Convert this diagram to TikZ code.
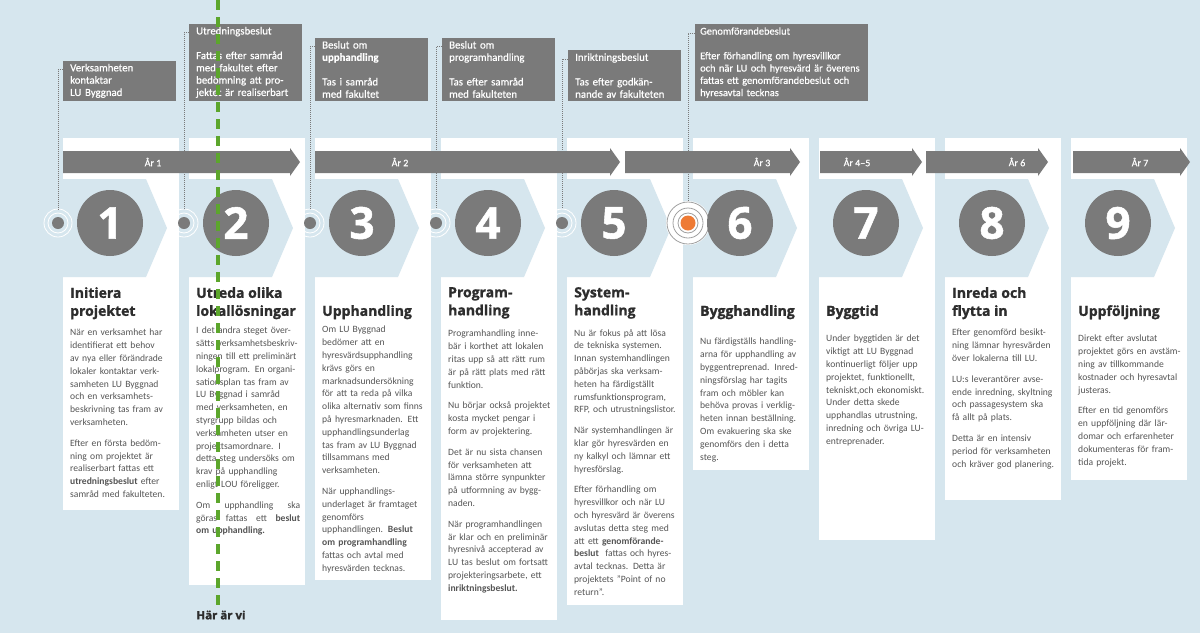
\documentclass[tikz,border=0pt]{standalone}
\usepackage{fontspec}
\setmainfont{Carlito}
\newfontfamily\headfont[FakeBold=1.2]{Open Sans}
\newfontfamily\boxfont[FakeBold=0.6]{Carlito}
\usetikzlibrary{positioning}
\definecolor{bgblue}{RGB}{214,230,238}
\definecolor{darkgrey}{RGB}{122,122,122}
\definecolor{ringgrey}{RGB}{160,160,160}
\definecolor{textgrey}{RGB}{85,85,85}
\definecolor{titlegrey}{RGB}{45,45,45}
\definecolor{heregreen}{RGB}{92,166,44}
\definecolor{noworange}{RGB}{238,122,52}
\tikzset{
    card/.style={fill=white,anchor=north west,minimum width=116pt,inner sep=0pt},
    chevron/.style={fill=bgblue},
    stepnum/.style={circle,fill=darkgrey,minimum size=66pt,inner sep=0pt,text=white,font=\headfont\bfseries\fontsize{44}{44}\selectfont},
    stagedot/.style={circle,fill=darkgrey,minimum size=12pt,inner sep=0pt},
    ring/.style={draw=white,line width=0.8pt},
    nowring/.style={draw=ringgrey,line width=0.8pt},
    decision/.style={fill=darkgrey,anchor=south west,text=white,align=left,inner xsep=7pt,inner ysep=3pt,text width=99pt,font=\boxfont\fontsize{10.8}{12.3}\selectfont},
    link/.style={densely dotted,draw=darkgrey,line width=1pt},
    yeararrow/.style={fill=darkgrey},
    yearlabel/.style={text=white,inner sep=0pt,font=\boxfont\fontsize{10}{11}\selectfont},
    title/.style={anchor=north west,inner sep=0pt,align=left,text=titlegrey,font=\headfont\bfseries\fontsize{14}{18}\selectfont},
    body/.style={anchor=north west,inner sep=0pt,align=left,text width=110pt,text=textgrey,font=\fontsize{9.6}{12.8}\selectfont},
    here/.style={draw=heregreen,line width=3.5pt,dash pattern=on 10pt off 7pt}
}

\begin{document}
\begin{tikzpicture}[x=1pt,y=-1pt]

    \fill[bgblue] (0,0) rectangle (1200,633);
    \useasboundingbox (0,0) rectangle (1200,633);

    \node[card,minimum height=372pt] (card 1) at (63,138)   {};
    \node[card,minimum height=447pt] (card 2) at (189,138)  {};
    \node[card,minimum height=442pt] (card 3) at (315,138)  {};
    \node[card,minimum height=482pt] (card 4) at (441,138)  {};
    \node[card,minimum height=467pt] (card 5) at (567,138)  {};
    \node[card,minimum height=332pt] (card 6) at (693,138)  {};
    \node[card,minimum height=402pt] (card 7) at (819,138)  {};
    \node[card,minimum height=362pt] (card 8) at (945,138)  {};
    \node[card,minimum height=342pt] (card 9) at (1071,138) {};

    \fill[chevron] (63,179)   -- (146,179)  -- (167,228)  -- (146,277)  -- (63,277)   -- cycle;
    \fill[chevron] (189,179)  -- (272,179)  -- (293,228)  -- (272,277)  -- (189,277)  -- cycle;
    \fill[chevron] (315,179)  -- (398,179)  -- (419,228)  -- (398,277)  -- (315,277)  -- cycle;
    \fill[chevron] (441,179)  -- (524,179)  -- (545,228)  -- (524,277)  -- (441,277)  -- cycle;
    \fill[chevron] (567,179)  -- (650,179)  -- (671,228)  -- (650,277)  -- (567,277)  -- cycle;
    \fill[chevron] (693,179)  -- (776,179)  -- (797,228)  -- (776,277)  -- (693,277)  -- cycle;
    \fill[chevron] (819,179)  -- (902,179)  -- (923,228)  -- (902,277)  -- (819,277)  -- cycle;
    \fill[chevron] (945,179)  -- (1028,179) -- (1049,228) -- (1028,277) -- (945,277)  -- cycle;
    \fill[chevron] (1071,179) -- (1154,179) -- (1175,228) -- (1154,277) -- (1071,277) -- cycle;

    \fill[yeararrow] (63,151)   -- (290,151)  -- (290,148)  -- (300,162)  -- (290,176)  -- (290,173)  -- (63,173)   -- cycle;
    \fill[yeararrow] (315,151)  -- (610,151)  -- (610,148)  -- (620,162)  -- (610,176)  -- (610,173)  -- (315,173)  -- cycle;
    \fill[yeararrow] (625,151)  -- (790,151)  -- (790,148)  -- (800,162)  -- (790,176)  -- (790,173)  -- (625,173)  -- cycle;
    \fill[yeararrow] (820,151)  -- (912,151)  -- (912,148)  -- (922,162)  -- (912,176)  -- (912,173)  -- (820,173)  -- cycle;
    \fill[yeararrow] (926,151)  -- (1038,151) -- (1038,148) -- (1048,162) -- (1038,176) -- (1038,173) -- (926,173)  -- cycle;
    \fill[yeararrow] (1073,151) -- (1180,151) -- (1180,148) -- (1190,162) -- (1180,176) -- (1180,173) -- (1073,173) -- cycle;

    \node[yearlabel] (year 1) at (153,162)  {År 1};
    \node[yearlabel] (year 2) at (400,162)  {År 2};
    \node[yearlabel] (year 3) at (762,162)  {År 3};
    \node[yearlabel] (year 4) at (857,162)  {År 4–5};
    \node[yearlabel] (year 6) at (1017,162) {År 6};
    \node[yearlabel] (year 7) at (1140,162) {År 7};

    \node[stagedot] (dot 1) at (58,223)  {};
    \node[stagedot] (dot 2) at (184,223) {};
    \node[stagedot] (dot 3) at (310,223) {};
    \node[stagedot] (dot 4) at (436,223) {};
    \node[stagedot] (dot 5) at (562,223) {};
    \draw[ring] (dot 1) circle (10pt) circle (14pt);
    \draw[ring] (dot 2) circle (10pt) circle (14pt);
    \draw[ring] (dot 3) circle (10pt) circle (14pt);
    \draw[ring] (dot 4) circle (10pt) circle (14pt);
    \draw[ring] (dot 5) circle (10pt) circle (14pt);
    \fill[white] (688,223) circle (22pt);
    \node[stagedot,fill=noworange,minimum size=15pt] (dot 6) at (688,223) {};
    \draw[nowring] (dot 6) circle (10pt) circle (15pt) circle (21pt);

    \node[stepnum] (step 1) at (110,223)  {1};
    \node[stepnum] (step 2) at (236,223)  {2};
    \node[stepnum] (step 3) at (362,223)  {3};
    \node[stepnum] (step 4) at (488,223)  {4};
    \node[stepnum] (step 5) at (614,223)  {5};
    \node[stepnum] (step 6) at (740,223)  {6};
    \node[stepnum] (step 7) at (866,223)  {7};
    \node[stepnum] (step 8) at (992,223)  {8};
    \node[stepnum] (step 9) at (1118,223) {9};

    \node[title] (title 1) at (70,287)   {Initiera\\projektet};
    \node[title] (title 2) at (196,287)  {Utreda olika\\lokallösningar};
    \node[title] (title 3) at (322,305)  {Upphandling};
    \node[title] (title 4) at (448,287)  {Program-\\handling};
    \node[title] (title 5) at (574,287)  {System-\\handling};
    \node[title] (title 6) at (700,305)  {Bygghandling};
    \node[title] (title 7) at (826,305)  {Byggtid};
    \node[title] (title 8) at (952,287)  {Inreda och\\flytta in};
    \node[title] (title 9) at (1078,305) {Uppföljning};

    \node[body] (text 1) at (70,329) {När en verksamhet har\\identifierat ett behov\\av nya eller förändrade\\lokaler kontaktar verk-\\samheten LU Byggnad\\och en verksamhets-\\beskrivning tas fram av\\verksamheten.\\[8pt]Efter en första bedöm-\\ning om projektet är\\realiserbart fattas ett\\\textbf{utredningsbeslut} efter\\samråd med fakulteten.};
    \node[body] (text 2) at (196,327) {I det andra steget över-\\sätts verksamhetsbeskriv-\\ningen till ett preliminärt\\lokalprogram. En organi-\\sationsplan tas fram av\\LU Byggnad i samråd\\med verksamheten, en\\styrgrupp bildas och\\verksamheten utser en\\projektsamordnare. I\\detta steg undersöks om\\krav på upphandling\\enligt LOU föreligger.\\[8pt]\makebox[104pt][l]{Om\hfill upphandling\hfill ska}\\\makebox[104pt][l]{göras\hfill fattas\hfill ett\hfill \textbf{beslut}}\\\textbf{om upphandling.}};
    \node[body] (text 3) at (322,326) {Om LU Byggnad\\bedömer att en\\hyresvärdsupphandling\\krävs görs en\\marknadsundersökning\\för att ta reda på vilka\\olika alternativ som finns\\på hyresmarknaden. Ett\\upphandlingsunderlag\\tas fram av LU Byggnad\\tillsammans med\\verksamheten.\\[8pt]När upphandlings-\\underlaget är framtaget\\genomförs\\upphandlingen. \textbf{Beslut}\\\textbf{om programhandling}\\fattas och avtal med\\hyresvärden tecknas.};
    \node[body] (text 4) at (448,330) {Programhandling inne-\\bär i korthet att lokalen\\ritas upp så att rätt rum\\är på rätt plats med rätt\\funktion.\\[8pt]Nu börjar också projektet\\kosta mycket pengar i\\form av projektering.\\[8pt]Det är nu sista chansen\\för verksamheten att\\lämna större synpunkter\\på utformning av bygg-\\naden.\\[8pt]När programhandlingen\\är klar och en preliminär\\hyresnivå accepterad av\\LU tas beslut om fortsatt\\projekteringsarbete, ett\\\textbf{inriktningsbeslut.}};
    \node[body] (text 5) at (574,329) {Nu är fokus på att lösa\\de tekniska systemen.\\Innan systemhandlingen\\påbörjas ska verksam-\\heten ha färdigställt\\rumsfunktionsprogram,\\RFP, och utrustningslistor.\\[8pt]När systemhandlingen är\\klar gör hyresvärden en\\ny kalkyl och lämnar ett\\hyresförslag.\\[8pt]Efter förhandling om\\hyresvillkor och när LU\\och hyresvärd är överens\\avslutas detta steg med\\att ett \textbf{genomförande-}\\\textbf{beslut}\ \ fattas och hyres-\\avtal tecknas. Detta är\\projektets ”Point of no\\return”.};
    \node[body] (text 6) at (700,338) {Nu färdigställs handling-\\arna för upphandling av\\byggentreprenad. Inred-\\ningsförslag har tagits\\fram och möbler kan\\behöva provas i verklig-\\heten innan beställning.\\Om evakuering ska ske\\genomförs den i detta\\steg.};
    \node[body] (text 7) at (826,335) {Under byggtiden är det\\viktigt att LU Byggnad\\kontinuerligt följer upp\\projektet, funktionellt,\\tekniskt,och ekonomiskt.\\Under detta skede\\upphandlas utrustning,\\inredning och övriga LU-\\entreprenader.};
    \node[body] (text 8) at (952,329) {Efter genomförd besikt-\\ning lämnar hyresvärden\\över lokalerna till LU.\\[8pt]LU:s leverantörer avse-\\ende inredning, skyltning\\och passagesystem ska\\få allt på plats.\\[8pt]Detta är en intensiv\\period för verksamheten\\och kräver god planering.};
    \node[body] (text 9) at (1078,335) {Direkt efter avslutat\\projektet görs en avstäm-\\ning av tillkommande\\kostnader och hyresavtal\\justeras.\\[8pt]Efter en tid genomförs\\en uppföljning där lär-\\domar och erfarenheter\\dokumenteras för fram-\\tida projekt.};

    \node[decision] (box 1) at (63,101)  {Verksamheten\\kontaktar\\LU Byggnad};
    \node[decision] (box 2) at (189,101) {Utredningsbeslut\\[12.3pt]Fattas efter samråd\\med fakultet efter\\bedömning att pro-\\jektet är realiserbart};
    \node[decision] (box 3) at (315,101) {Beslut om\\\textbf{upphandling}\\[12.3pt]Tas i samråd\\med fakultet};
    \node[decision] (box 4) at (442,101) {Beslut om\\programhandling\\[12.3pt]Tas efter samråd\\med fakulteten};
    \node[decision] (box 5) at (568,101) {Inriktningsbeslut\\[12.3pt]Tas efter godkän-\\nande av fakulteten};
    \node[decision,inner xsep=5pt,text width=163pt,font=\boxfont\fontsize{10.4}{12.3}\selectfont] (box 6) at (695,101) {Genomförandebeslut\\[12.3pt]Efter förhandling om hyresvillkor\\och när LU och hyresvärd är överens\\fattas ett genomförandebeslut och\\hyresavtal tecknas};

    \draw[link] ([yshift=-9pt]box 1.north west) -| ([yshift=8pt]dot 1.north);
    \draw[link] ([yshift=-9pt]box 2.north west) -| ([yshift=8pt]dot 2.north);
    \draw[link] ([yshift=-9pt]box 3.north west) -| ([yshift=8pt]dot 3.north);
    \draw[link] ([yshift=-9pt]box 4.north west) -| ([yshift=8pt]dot 4.north);
    \draw[link] ([yshift=-9pt]box 5.north west) -| ([yshift=8pt]dot 5.north);
    \draw[link] ([yshift=-9pt]box 6.north west) -| ([yshift=14pt]dot 6.north);

    \coordinate (here top) at (218,0);
    \node[text=titlegrey,font=\headfont\bfseries\fontsize{11.5}{13}\selectfont] (here label) at (221,615) {Här är vi};
    \draw[here] (here top) -- (here top |- here label.north);

\end{tikzpicture}
\end{document}
